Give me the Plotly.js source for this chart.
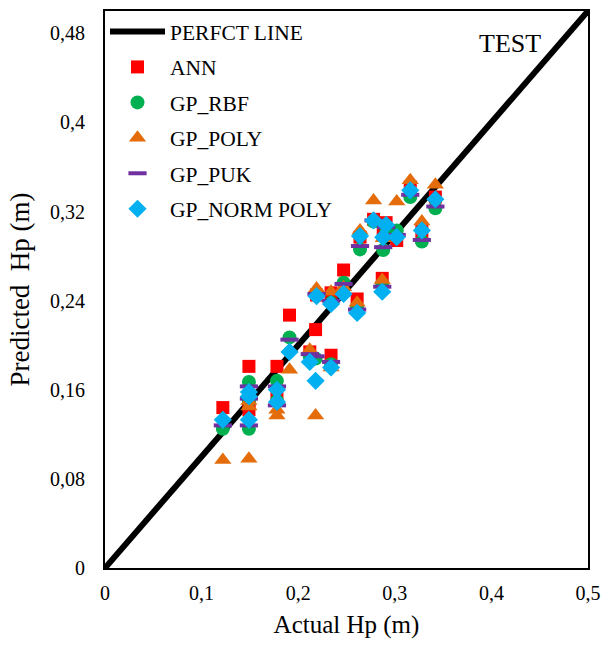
<!DOCTYPE html>
<html>
<head>
<meta charset="utf-8">
<script src="https://cdn.plot.ly/plotly-3.0.1.min.js"></script>
<style>html,body{margin:0;padding:0;background:#fff}#chart{width:603px;height:645px}</style>
</head>
<body>
<div id="chart"></div>
<script>
// Actual values (test samples)
const actual = [0.122, 0.149, 0.149, 0.149, 0.178, 0.178, 0.191, 0.212, 0.218, 0.219, 0.234, 0.234,
                0.247, 0.261, 0.264, 0.278, 0.287, 0.288, 0.291, 0.302, 0.316, 0.328, 0.342];
const annPred = [0.144, 0.181, 0.149, 0.142, 0.181, 0.154, 0.227, 0.194, 0.214, 0.245, 0.191, 0.247,
                 0.2675, 0.2415, 0.297, 0.313, 0.260, 0.300, 0.310, 0.294, 0.342, 0.302, 0.333];
const rbfPred = [0.125, 0.167, 0.150, 0.125, 0.168, 0.150, 0.207, 0.190, 0.188, 0.245, 0.183, 0.238,
                 0.256, 0.234, 0.286, 0.311, 0.255, 0.2855, 0.305, 0.303, 0.333, 0.293, 0.323];
const polyPred = [0.097, 0.150, 0.145, 0.098, 0.142, 0.137, 0.178, 0.196, 0.137, 0.251, 0.180, 0.248,
                  0.252, 0.238, 0.303, 0.330, 0.2585, 0.296, 0.308, 0.329, 0.348, 0.311, 0.344];
const pukPred = [0.128, 0.163, 0.152, 0.128, 0.163, 0.146, 0.205, 0.192, 0.190, 0.246, 0.185, 0.240,
                 0.255, 0.232, 0.289, 0.312, 0.2525, 0.288, 0.306, 0.299, 0.335, 0.2945, 0.3245];
const normPolyPred = [0.133, 0.158, 0.154, 0.133, 0.160, 0.149, 0.194, 0.185, 0.168, 0.244, 0.180, 0.237,
                      0.246, 0.229, 0.298, 0.312, 0.248, 0.297, 0.308, 0.297, 0.339, 0.303, 0.331];
const perfectLine = [0, 0.5];

const xTickVals = [0, 0.1, 0.2, 0.3, 0.4, 0.5];
const xTickText = ['0', '0,1', '0,2', '0,3', '0,4', '0,5'];
const yTickVals = [0, 0.08, 0.16, 0.24, 0.32, 0.4, 0.48];
const yTickText = ['0', '0,08', '0,16', '0,24', '0,32', '0,4', '0,48'];

const FONT = "'Liberation Serif', 'Times New Roman', serif";

function pts(name, y, symbol, color, size) {
  return {
    type: 'scatter', mode: 'markers', name: name, x: actual, y: y,
    legendgroup: name,
    marker: {symbol: symbol, color: color, size: size, line: {width: 0}}
  };
}

const traces = [
  {type: 'scatter', mode: 'lines', name: 'PERFCT LINE', x: perfectLine, y: perfectLine,
   legendgroup: 'line', line: {color: '#000', width: 6}},
  pts('ANN', annPred, 'square', '#FF0000', 13),
  pts('GP_RBF', rbfPred, 'circle', '#00B050', 14),
  pts('GP_POLY', polyPred, 'triangle-up', '#E46C0A', 15),
  {type: 'scatter', mode: 'markers', name: 'GP_PUK', x: actual, y: pukPred, legendgroup: 'GP_PUK',
   marker: {symbol: 'line-ew', size: 13, color: '#7030A0', line: {color: '#7030A0', width: 4}}},
  pts('GP_NORM POLY', normPolyPred, 'diamond', '#00B0F0', 14)
];

const layout = {
  width: 603, height: 645,
  margin: {l: 105, r: 15, t: 11, b: 77},
  paper_bgcolor: '#fff', plot_bgcolor: '#fff',
  font: {family: FONT, color: '#000', size: 20},
  showlegend: true,
  legend: {x: 0, y: 1, xanchor: 'left', yanchor: 'top', bgcolor: 'rgba(0,0,0,0)',
           font: {family: FONT, size: 21.5, color: '#000'}, tracegroupgap: 4.5, itemwidth: 55},
  xaxis: {range: [0, 0.5], tickmode: 'array', tickvals: xTickVals, ticktext: xTickText,
          showgrid: false, zeroline: false, showline: true, linecolor: '#000', linewidth: 2, mirror: true,
          ticks: '', tickfont: {family: FONT, size: 20}, ticklabelstandoff: 6,
          title: {text: 'Actual Hp (m)', font: {family: FONT, size: 25}, standoff: 12}},
  yaxis: {range: [0, 0.5], tickmode: 'array', tickvals: yTickVals, ticktext: yTickText,
          showgrid: false, zeroline: false, showline: true, linecolor: '#000', linewidth: 2, mirror: true,
          ticks: '', tickfont: {family: FONT, size: 20}, ticklabelstandoff: 14,
          title: {text: 'Predicted\u00a0 Hp (m)', font: {family: FONT, size: 27}, standoff: 13}},
  annotations: [{text: 'TEST', x: 0.419, y: 0.471, xref: 'x', yref: 'y', showarrow: false,
                 font: {family: FONT, size: 26, color: '#000'}}]
};

Plotly.newPlot('chart', traces, layout, {displayModeBar: false, staticPlot: true});
</script>
</body>
</html>
